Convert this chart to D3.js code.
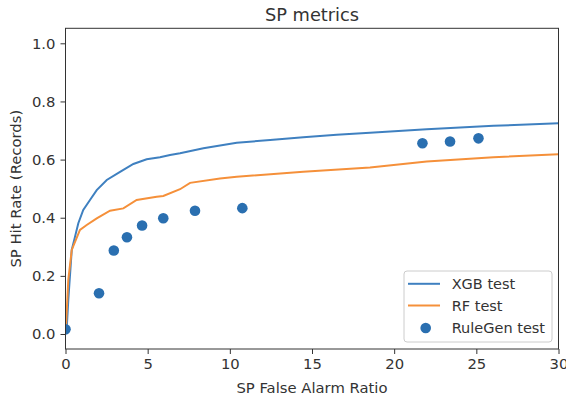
<!DOCTYPE html>
<html>
<head>
<meta charset="utf-8">
<script src="https://cdn.jsdelivr.net/npm/d3@7"></script>
<style>
  body { margin: 0; background: #fff; }
  svg text { font-family: "DejaVu Sans", sans-serif; fill: #333; }
</style>
</head>
<body>
<div id="chart"></div>
<script>
// curves (false alarm ratio, hit rate)
const xgbX = [0, 0.07, 0.17, 0.38, 0.58, 0.78, 1.08, 1.49, 1.9, 2.51, 3.32, 4.13, 4.94, 5.75, 6.36, 6.97, 8.39, 10.42, 12.45, 14.47, 16.5, 18.53, 21.98, 26.04, 30];
const xgbY = [0, 0.014, 0.117, 0.289, 0.335, 0.381, 0.427, 0.461, 0.495, 0.53, 0.558, 0.585, 0.601, 0.608, 0.616, 0.622, 0.639, 0.658, 0.667, 0.677, 0.685, 0.692, 0.704, 0.716, 0.725];
const rfX = [0, 0.03, 0.17, 0.38, 0.88, 1.29, 1.9, 2.71, 3.52, 4.33, 5.55, 5.95, 6.97, 7.58, 9.4, 10.42, 14.47, 18.53, 21.98, 26.04, 30];
const rfY = [0, 0.025, 0.186, 0.289, 0.358, 0.375, 0.398, 0.424, 0.432, 0.461, 0.472, 0.475, 0.498, 0.52, 0.535, 0.541, 0.558, 0.573, 0.593, 0.608, 0.618];
const ruleX = [0, 2.04, 2.94, 3.74, 4.66, 5.95, 7.88, 10.76, 21.72, 23.4, 25.13];
const ruleY = [0.016, 0.14, 0.287, 0.333, 0.373, 0.398, 0.424, 0.433, 0.656, 0.662, 0.673];
const xTicks = [0, 5, 10, 15, 20, 25, 30];
const yTicks = [0, 0.2, 0.4, 0.6, 0.8, 1.0];
const seriesNames = ["XGB test", "RF test", "RuleGen test"];

const width = 566, height = 399;
const margin = { top: 28.3, right: 7.5, bottom: 50, left: 65.5 };
const colors = { xgb: "#3f80c0", rf: "#f5903a", rule: "#2a6fb0" };

const svg = d3.select("#chart").append("svg")
  .attr("width", width)
  .attr("height", height);

const x = d3.scaleLinear().domain([0, 30]).range([margin.left, width - margin.right]);
const y = d3.scaleLinear().domain([-0.0516, 1.0516]).range([height - margin.bottom, margin.top]);

svg.append("clipPath").attr("id", "plot-clip")
  .append("rect")
  .attr("x", margin.left).attr("y", margin.top)
  .attr("width", width - margin.left - margin.right)
  .attr("height", height - margin.top - margin.bottom);

const plot = svg.append("g").attr("clip-path", "url(#plot-clip)");

const line = d3.line().x(d => x(d[0])).y(d => y(d[1]));

plot.append("path")
  .datum(d3.zip(xgbX, xgbY))
  .attr("fill", "none")
  .attr("stroke", colors.xgb)
  .attr("stroke-width", 2)
  .attr("d", line);

plot.append("path")
  .datum(d3.zip(rfX, rfY))
  .attr("fill", "none")
  .attr("stroke", colors.rf)
  .attr("stroke-width", 2)
  .attr("d", line);

plot.selectAll(".dot")
  .data(d3.zip(ruleX, ruleY))
  .enter()
  .append("circle")
  .attr("class", "dot")
  .attr("cx", d => x(d[0]))
  .attr("cy", d => y(d[1]))
  .attr("r", 5.3)
  .attr("fill", colors.rule);

// axes
const xAxis = svg.append("g")
  .attr("transform", `translate(0,${height - margin.bottom})`)
  .call(d3.axisBottom(x).tickValues(xTicks).tickFormat(d3.format("d")).tickSize(5).tickPadding(4));

const yAxis = svg.append("g")
  .attr("transform", `translate(${margin.left},0)`)
  .call(d3.axisLeft(y).tickValues(yTicks).tickFormat(d3.format(".1f")).tickSize(5).tickPadding(5));

[xAxis, yAxis].forEach(a => {
  a.select(".domain").remove();
  a.selectAll("line").attr("stroke", "#333");
  a.selectAll("text")
    .style("font-size", "14.8px")
    .style("font-family", "'DejaVu Sans', sans-serif")
    .attr("fill", "#333");
});

// frame
svg.append("rect")
  .attr("x", margin.left).attr("y", margin.top)
  .attr("width", width - margin.left - margin.right)
  .attr("height", height - margin.top - margin.bottom)
  .attr("fill", "none")
  .attr("stroke", "#333")
  .attr("stroke-width", 1);

// labels
const cx = (margin.left + width - margin.right) / 2;
svg.append("text")
  .attr("x", cx).attr("y", 21)
  .attr("text-anchor", "middle")
  .style("font-size", "17.8px")
  .text("SP metrics");

svg.append("text")
  .attr("x", cx).attr("y", 393)
  .attr("text-anchor", "middle")
  .style("font-size", "14.8px")
  .text("SP False Alarm Ratio");

svg.append("text")
  .attr("transform", `translate(20.5,${(margin.top + height - margin.bottom) / 2}) rotate(-90)`)
  .attr("text-anchor", "middle")
  .style("font-size", "14.8px")
  .text("SP Hit Rate (Records)");

// legend
const legend = svg.append("g").attr("transform", "translate(404,271)");
legend.append("rect")
  .attr("width", 148).attr("height", 71)
  .attr("rx", 3)
  .attr("fill", "#fff")
  .attr("fill-opacity", 0.8)
  .attr("stroke", "#ccc");

const rowY = [12.8, 34.5, 57];
const rowColor = [colors.xgb, colors.rf, colors.rule];
seriesNames.forEach((name, i) => {
  if (i < 2) {
    legend.append("line")
      .attr("x1", 4).attr("x2", 36)
      .attr("y1", rowY[i]).attr("y2", rowY[i])
      .attr("stroke", rowColor[i])
      .attr("stroke-width", 2);
  } else {
    legend.append("circle")
      .attr("cx", 21.7).attr("cy", rowY[i])
      .attr("r", 5.3)
      .attr("fill", rowColor[i]);
  }
  legend.append("text")
    .attr("x", 47.7).attr("y", rowY[i] + 5.3)
    .style("font-size", "14.5px")
    .text(name);
});
</script>
</body>
</html>
